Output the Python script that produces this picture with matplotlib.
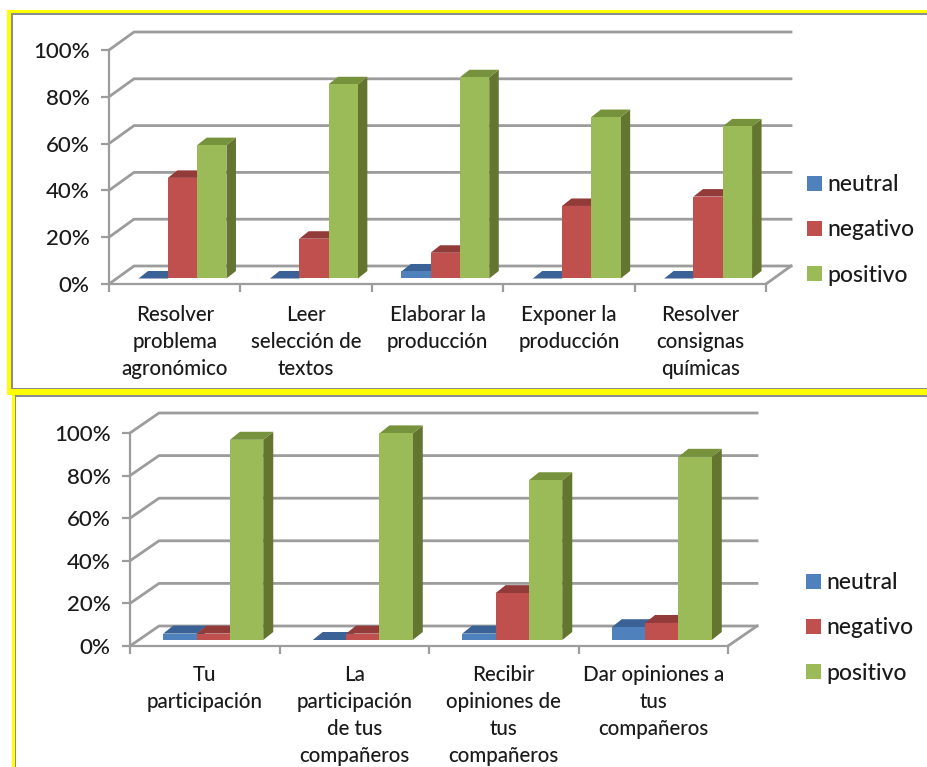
import matplotlib
matplotlib.use("Agg")
import numpy as np
import matplotlib.pyplot as plt
from matplotlib.patches import Polygon, Rectangle

W, H = 927, 767

series = ["neutral", "negativo", "positivo"]
colors = ["#4F81BD", "#C0504D", "#9BBB59"]
top_colors = ["#3A6296", "#933B39", "#76923C"]
side_colors = ["#35557F", "#7E3432", "#64752F"]
GRID = "#9C9C9C"

cats_a = ["Resolver\nproblema\nagronómico", "Leer\nselección de\ntextos",
          "Elaborar la\nproducción", "Exponer la\nproducción",
          "Resolver\nconsignas\nquímicas"]
neutral_a = [0, 0, 3, 0, 0]
negativo_a = [43, 17, 11, 31, 35]
positivo_a = [57, 83, 86, 69, 65]

cats_b = ["Tu\nparticipación", "La\nparticipación\nde tus\ncompañeros",
          "Recibir\nopiniones de\ntus\ncompañeros", "Dar opiniones a\ntus\ncompañeros"]
neutral_b = [3, 0, 3, 6]
negativo_b = [3, 3, 22, 8]
positivo_b = [94, 97, 75, 86]

plt.rcParams["font.family"] = ["Lato", "DejaVu Sans"]
plt.rcParams["font.weight"] = "medium"


def add_axes_px(fig, x0, x1, ytop, ybot):
    return fig.add_axes([x0 / W, 1 - ybot / H, (x1 - x0) / W, (ybot - ytop) / H])


def draw_chart(fig, box, depth, shift, bar_depth, cats, values, legend_x, legend_y, label_pad):
    x0, x1, ytop, ybot = box
    ax = add_axes_px(fig, x0, x1, ytop, ybot)
    n = len(cats)
    ax.set_xlim(0, n)
    ax.set_ylim(0, 100)
    ax.patch.set_alpha(0)
    px = n / (x1 - x0)    # data units per pixel, x
    py = 100 / (ybot - ytop)    # data units per pixel, y
    dep_x, dep_y = depth[0] * px, depth[1] * py

    # back wall, side wall and floor
    for v in np.arange(0, 101, 20):
        ax.plot([0, dep_x, n + dep_x], [v, v + dep_y, v + dep_y],
                color=GRID, lw=2, clip_on=False, zorder=1)
    ax.plot([n, n + dep_x], [0, dep_y], color=GRID, lw=2, clip_on=False, zorder=1)

    # bars, left to right so each one covers the side of the previous
    width = 0.223
    sx, sy = shift[0] * px, shift[1] * py
    bx, by = bar_depth[0] * px, bar_depth[1] * py
    z = 3
    for i in range(n):
        for j, name in enumerate(series):
            v = values[j][i]
            left = i + 0.5 + (j - 1.5) * width + sx
            right = left + width
            top = sy + v
            ax.add_patch(Polygon([(right, sy), (right + bx, sy + by), (right + bx, top + by), (right, top)],
                                 fc=side_colors[j], ec="none", clip_on=False, zorder=z))
            ax.add_patch(Polygon([(left, top), (left + bx, top + by), (right + bx, top + by), (right, top)],
                                 fc=top_colors[j], ec="none", clip_on=False, zorder=z))
            ax.bar(left, v, width, bottom=sy, align="edge", color=colors[j], clip_on=False, zorder=z + 0.5)
            z += 1

    ax.spines["top"].set_visible(False)
    ax.spines["right"].set_visible(False)
    for s in ["left", "bottom"]:
        ax.spines[s].set_color(GRID)
        ax.spines[s].set_linewidth(1.6)
        ax.spines[s].set_zorder(2)

    ax.set_yticks(np.arange(0, 101, 20))
    ax.set_yticklabels(["%d%%" % v for v in np.arange(0, 101, 20)], fontsize=16, color="#1A1A1A")
    ax.tick_params(axis="y", length=6, width=1.6, color=GRID, pad=8)

    ax.set_xticks(np.arange(n) + 0.5)
    ax.set_xticklabels(cats, fontsize=14.8, color="#1A1A1A", linespacing=1.44, ha="center", va="top")
    ax.set_xticks(np.arange(n + 1), minor=True)
    ax.tick_params(axis="x", which="major", length=0, pad=label_pad)
    ax.tick_params(axis="x", which="minor", length=6, width=1.6, color=GRID)

    # legend swatches and labels
    handles = [Rectangle((0, 0), 1, 1, fc=c, ec="none") for c in colors]
    ax.legend(handles, series, loc="center left", frameon=False,
              bbox_to_anchor=(legend_x / W, 1 - legend_y / H), bbox_transform=fig.transFigure,
              fontsize=16.5, labelspacing=1.05, handlelength=0.64, handleheight=0.62,
              handletextpad=0.25, borderpad=0, borderaxespad=0, labelcolor="#1A1A1A")
    return ax


fig = plt.figure(figsize=(W / 100, H / 100), dpi=100, facecolor="white")

bg = fig.add_axes([0, 0, 1, 1])
bg.set_xlim(0, W)
bg.set_ylim(H, 0)
bg.axis("off")

# upper panel border, yellow then gray
bg.add_patch(Rectangle((7, 9.5), W, 385, fc="#FFFF00", ec="none"))
bg.add_patch(Rectangle((11, 13), W, 376, fc="#8C8C8C", ec="none"))
bg.add_patch(Rectangle((12.7, 14.5), W, 373, fc="white", ec="none"))
# lower panel border runs off the bottom edge
bg.add_patch(Rectangle((12.5, 393), W, 400, fc="#FFFF00", ec="none"))
bg.add_patch(Rectangle((15, 395), W, 400, fc="#8C8C8C", ec="none"))
bg.add_patch(Rectangle((16.5, 396.5), W, 400, fc="white", ec="none"))

draw_chart(fig, (109, 766, 50, 284), (25, 18), (7.8, 5.5), (9.5, 7.5),
           cats_a, [neutral_a, negativo_a, positivo_a], 807, 230, 15)
draw_chart(fig, (130, 728, 433, 646), (29, 20), (8.5, 6), (10, 8),
           cats_b, [neutral_b, negativo_b, positivo_b], 806, 628, 13.5)

fig.savefig("out.png", dpi=100)
